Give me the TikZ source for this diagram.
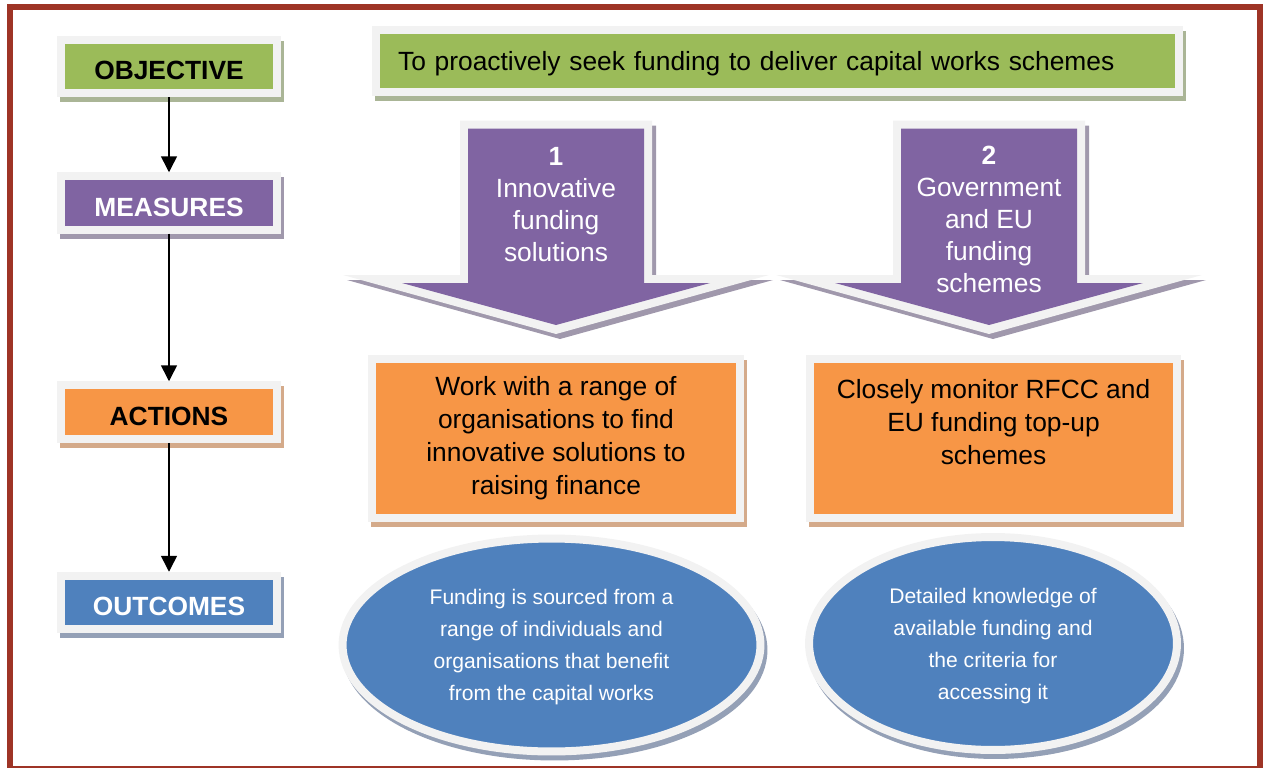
\documentclass[tikz,border=0pt]{standalone}
\usepackage{fontspec}
\setmainfont{Liberation Sans}
\usetikzlibrary{shapes.geometric,shadows,arrows.meta}

\definecolor{objgreen}{RGB}{155,187,89}
\definecolor{measpurple}{RGB}{128,100,162}
\definecolor{actorange}{RGB}{247,150,70}
\definecolor{outblue}{RGB}{79,129,189}
\definecolor{rim}{RGB}{242,242,242}
\definecolor{borderred}{RGB}{158,52,38}
\definecolor{greenshade}{RGB}{170,181,150}
\definecolor{purpleshade}{RGB}{160,152,172}
\definecolor{orangeshade}{RGB}{212,170,138}
\definecolor{blueshade}{RGB}{148,160,182}

\begin{document}
\begin{tikzpicture}[x=0.02cm,y=-0.02cm,
  framebox/.style={rectangle,draw=rim,line width=0.16cm,inner sep=0pt},
  dropshade/.style={drop shadow={shadow xshift=0.06cm,shadow yshift=-0.1cm,opacity=1,fill=#1,draw=#1,line width=0.16cm}},
  labelbox/.style={framebox,minimum width=4.34cm,minimum height=1.07cm,text height=0.53cm,text depth=0pt,font=\fontsize{15}{18}\selectfont\bfseries},
  actionbox/.style={framebox,fill=actorange,dropshade=orangeshade,minimum width=7.36cm,minimum height=3.18cm,align=center,font=\fontsize{15}{18.8}\selectfont},
  outcomebox/.style={ellipse,draw=rim,line width=0.16cm,fill=outblue,dropshade=blueshade,text=white,align=center,inner sep=0pt,minimum height=4.26cm,text depth=-0.1cm,font=\fontsize{12}{18.2}\selectfont},
  measuretext/.style={text=white,align=center,inner sep=0pt,anchor=north,font=\fontsize{15}{18.2}\selectfont},
  flowarrow/.style={-{Triangle[width=0.32cm,length=0.32cm]},line width=0.85pt}]

\useasboundingbox (0,0) rectangle (1263,767);
\draw[borderred,line width=0.12cm] (10,7) rectangle (1259.5,769);

% left column
\node[labelbox,fill=objgreen,dropshade=greenshade] (objective) at (169,66.5) {OBJECTIVE};
\node[labelbox,fill=measpurple,dropshade=purpleshade,text=white] (measures) at (169,203) {MEASURES};
\node[labelbox,fill=actorange,dropshade=orangeshade] (actions) at (169,412) {ACTIONS};
\node[labelbox,fill=outblue,dropshade=blueshade,text=white] (outcomes) at (169,602.5) {OUTCOMES};

\draw[flowarrow] (objective) -- (measures);
\draw[flowarrow] (measures) -- (actions);
\draw[flowarrow] (actions) -- (outcomes);

% objective
\node[framebox,fill=objgreen,dropshade=greenshade,minimum width=16.07cm,minimum height=1.24cm,
  text width=15.17cm,text depth=0pt,align=left,font=\fontsize{15}{18}\selectfont] (aim) at (777.25,61)
  {To proactively seek funding to deliver capital works schemes};

% measures
\foreach \cx in {556,989} {
  \begin{scope}[shift={(\cx,0)}]
    \fill[purpleshade] (-92,125.5) -- (100,125.5) -- (100,280) -- (217,280) -- (4,339) -- (-209,280) -- (-92,280) -- cycle;
    \fill[rim] (-96,120.5) -- (96,120.5) -- (96,275) -- (213,275) -- (0,334) -- (-213,275) -- (-96,275) -- cycle;
    \fill[measpurple] (-88,128.5) -- (88,128.5) -- (88,283) -- (154,283) -- (0,325) -- (-154,283) -- (-88,283) -- cycle;
  \end{scope}
}
\node[measuretext] (meas1) at (556,147.5) {\textbf{1}\\Innovative\\funding\\solutions};
\node[measuretext] (meas2) at (989,146) {\textbf{2}\\Government\\and EU\\funding\\schemes};

% actions
\node[actionbox] (act1) at (556,438.5) {Work with a range of\\organisations to find\\innovative solutions to\\raising finance};
\node[actionbox] (act2) at (993.5,438.5) {Closely monitor RFCC and\\EU funding top-up\\schemes\\~};

% outcomes
\node[outcomebox,minimum width=8.36cm] (out1) at (551.5,645) {Funding is sourced from a\\range of individuals and\\organisations that benefit\\from the capital works};
\node[outcomebox,minimum width=7.36cm] (out2) at (993,643.5) {Detailed knowledge of\\available funding and\\the criteria for\\accessing it};

\end{tikzpicture}
\end{document}
